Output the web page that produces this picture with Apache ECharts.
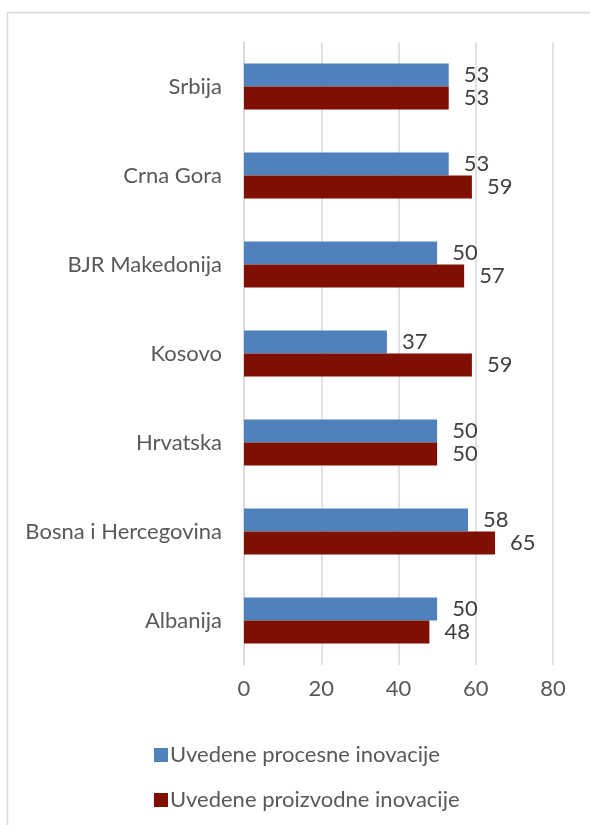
<!DOCTYPE html>
<html>
<head>
<meta charset="utf-8">
<script src="https://cdn.jsdelivr.net/npm/echarts@6/dist/echarts.min.js"></script>
<style>html,body{margin:0;padding:0;background:#fff}#c{width:590px;height:825px}</style>
</head>
<body>
<div id="c"></div>
<script>
const categories = ['Albanija', 'Bosna i Hercegovina', 'Hrvatska', 'Kosovo', 'BJR Makedonija', 'Crna Gora', 'Srbija'];
const procesne = [50, 58, 50, 37, 50, 53, 53];
const proizvodne = [48, 65, 50, 59, 57, 59, 53];
const seriesNames = ['Uvedene procesne inovacije', 'Uvedene proizvodne inovacije'];
const xTicks = [0, 20, 40, 60, 80];

const FONT = 'Lato';
const chart = echarts.init(document.getElementById('c'), null, {renderer: 'canvas'});
const labelStyle = {show: true, position: 'right', distance: 15, color: '#404040', fontSize: 22, fontFamily: FONT};
chart.setOption({
  animation: false,
  graphic: [{type: 'rect', shape: {x: 7.5, y: 12.5, width: 700, height: 900}, style: {fill: 'none', stroke: '#d9d9d9', lineWidth: 1.5}}],
  grid: {left: 244, right: 37, top: 42, bottom: 160, containLabel: false},
  legend: {
    orient: 'vertical', left: 149, top: 739, itemWidth: 14, itemHeight: 14, itemGap: 23,
    data: [seriesNames[0], seriesNames[1]],
    textStyle: {color: '#595959', fontSize: 22, lineHeight: 20, fontFamily: FONT, padding: [0, 0, 0, -3]},
    icon: 'rect'
  },
  xAxis: {
    type: 'value', min: xTicks[0], max: xTicks[xTicks.length - 1], interval: 20,
    axisLine: {show: false}, axisTick: {show: false},
    splitLine: {lineStyle: {color: '#d9d9d9', width: 1.5}},
    axisLabel: {color: '#595959', fontSize: 22, fontFamily: FONT, margin: 13}
  },
  yAxis: {
    type: 'category', data: categories,
    axisLine: {show: true, lineStyle: {color: '#d9d9d9', width: 1.5}},
    axisTick: {show: false},
    axisLabel: {color: '#595959', fontSize: 22, fontFamily: FONT, margin: 22}
  },
  series: [
    {name: seriesNames[0], type: 'bar', data: procesne, barWidth: 23, barGap: '0%',
     itemStyle: {color: '#4f81bd'}, label: labelStyle},
    {name: seriesNames[1], type: 'bar', data: proizvodne, barWidth: 23, barGap: '0%',
     itemStyle: {color: '#7f0f00'}, label: labelStyle}
  ]
});
</script>
</body>
</html>
